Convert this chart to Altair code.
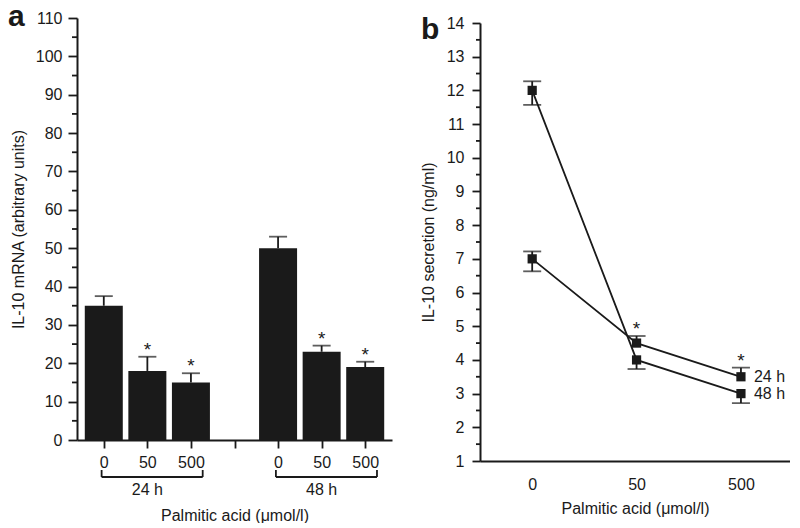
import altair as alt
import pandas as pd

# ---------------- data ----------------
conc_labels = ["0", "50", "500"]
groups = ["24 h", "48 h"]

# Panel a: IL-10 mRNA (arbitrary units), mean and upper end of SEM bar
mrna_24h = [35, 18, 15]
mrna_24h_upper = [37.5, 21.7, 17.4]
mrna_48h = [50, 23, 19]
mrna_48h_upper = [53.0, 24.6, 20.4]
mrna_signif = [False, True, True]

# Panel b: IL-10 secretion (ng/ml), mean and visible error bar ends
sec_24h = [7.0, 4.5, 3.5]
sec_24h_lower = [6.63, 4.5, 3.5]
sec_24h_upper = [7.22, 4.71, 3.77]
sec_48h = [12.0, 4.0, 3.0]
sec_48h_lower = [11.57, 3.73, 2.72]
sec_48h_upper = [12.27, 4.0, 3.0]
sec_signif = [False, True, True]

a_y_ticks = list(range(0, 111, 10))
a_y_minor = list(range(5, 110, 10))
b_y_ticks = list(range(1, 15))
b_y_minor = [v + 0.5 for v in range(1, 14)]

FONT = "Liberation Sans"
INK = "#1a1a1a"
LW = 1.8

# ---------------- panel a ----------------
rows = []
for gi, (vals, ups) in enumerate([(mrna_24h, mrna_24h_upper), (mrna_48h, mrna_48h_upper)]):
    for ci in range(3):
        rows.append(dict(pos=gi * 4 + ci, value=vals[ci], upper=ups[ci],
                         star="*" if mrna_signif[ci] else ""))
dfa = pd.DataFrame(rows)

brackets = pd.DataFrame({
    "group": groups,
    "start": [g * 4 - 0.05 for g in range(2)],
    "end": [g * 4 + 2.27 for g in range(2)],
    "mid": [g * 4 + 1 for g in range(2)],
})
ends = pd.DataFrame({"x": list(brackets["start"]) + list(brackets["end"])})

A_W, A_H = 315, 422
xa_scale = alt.Scale(domain=[-0.5, 6.5], nice=False, zero=False)
ya_scale = alt.Scale(domain=[0, 110], nice=False, zero=True)

xa_axis = alt.Axis(values=list(range(7)),
                   labelExpr="['0','50','500','','0','50','500'][datum.value]",
                   tickSize=8, labelPadding=6, grid=False, labelOverlap=False,
                   title="Palmitic acid (\u03bcmol/l)", titleX=A_W / 2, titleY=75,
                   titleBaseline="middle")
ya_axis = alt.Axis(values=a_y_ticks, tickSize=9, labelPadding=6, grid=False,
                   labelOverlap=False,
                   title="IL-10 mRNA (arbitrary units)", titleX=-59, titleY=A_H / 2,
                   titleAngle=270, titleBaseline="middle")


def XA(f):
    return alt.X(f, type="quantitative", scale=xa_scale, axis=xa_axis)


def YA(f):
    return alt.Y(f, type="quantitative", scale=ya_scale, axis=ya_axis)


base_a = alt.Chart(dfa)
bars = base_a.mark_bar(size=38, color=INK).encode(x=XA("pos"), y=YA("value"))
err_a = base_a.mark_rule(color=INK, strokeWidth=LW).encode(
    x=XA("pos"), y=YA("value"), y2="upper:Q")
cap_a = base_a.mark_tick(orient="horizontal", size=18, thickness=LW, color=INK).encode(
    x=XA("pos"), y=YA("upper"))
star_a = base_a.mark_text(fontSize=19, dy=-1, baseline="alphabetic", color=INK).encode(
    x=XA("pos"), y=YA("upper"), text="star:N")
minor_a = alt.Chart(pd.DataFrame({"v": a_y_minor})).mark_rule(color=INK, strokeWidth=LW).encode(
    y=YA("v"), x=alt.value(-5), x2=alt.value(0))
br_h = alt.Chart(brackets).mark_rule(color=INK, strokeWidth=LW).encode(
    x=XA("start"), x2="end:Q", y=alt.value(459))
br_v = alt.Chart(ends).mark_rule(color=INK, strokeWidth=LW).encode(
    x=XA("x"), y=alt.value(452), y2=alt.value(459))
br_t = alt.Chart(brackets).mark_text(fontSize=16, baseline="middle", color=INK).encode(
    x=XA("mid"), y=alt.value(472), text="group:N")
letter_a = alt.Chart(pd.DataFrame({"t": ["a"]})).mark_text(
    fontSize=30, fontWeight="bold", align="left", baseline="alphabetic", color=INK).encode(
    x=alt.value(-69), y=alt.value(8), text="t:N")

panel_a = alt.layer(bars, err_a, cap_a, star_a, minor_a, br_h, br_v, br_t, letter_a).properties(
    width=A_W, height=A_H)

# ---------------- panel b ----------------
rows = []
for name, vals, lo, hi in [("24 h", sec_24h, sec_24h_lower, sec_24h_upper),
                           ("48 h", sec_48h, sec_48h_lower, sec_48h_upper)]:
    for ci in range(3):
        rows.append(dict(series=name, pos=ci, value=vals[ci], lower=lo[ci], upper=hi[ci],
                         star="*" if (name == "24 h" and sec_signif[ci]) else "",
                         label=name if ci == 2 else ""))
dfb = pd.DataFrame(rows)
caps = []
for r in rows:
    if r["lower"] < r["value"]:
        caps.append(dict(pos=r["pos"], y=r["lower"]))
    if r["upper"] > r["value"]:
        caps.append(dict(pos=r["pos"], y=r["upper"]))
dfcaps = pd.DataFrame(caps)

B_W, B_H = 310, 443
xb_scale = alt.Scale(domain=[-0.5, 2.47], nice=False, zero=False)
yb_scale = alt.Scale(domain=[1, 14], range=[B_H, 5], nice=False, zero=False)
xb_axis = alt.Axis(values=[0, 1, 2], labelExpr="['0','50','500'][datum.value]",
                   ticks=False, tickSize=0, labelPadding=15, grid=False, labelOverlap=False,
                   title="Palmitic acid (\u03bcmol/l)", titleX=B_W / 2, titleY=47,
                   titleBaseline="middle")
yb_axis = alt.Axis(values=b_y_ticks, tickSize=8, labelPadding=8, grid=False,
                   labelOverlap=False,
                   title="IL-10 secretion (ng/ml)", titleX=-52, titleY=(B_H + 5) / 2,
                   titleAngle=270, titleBaseline="middle")


def XB(f):
    return alt.X(f, type="quantitative", scale=xb_scale, axis=xb_axis)


def YB(f):
    return alt.Y(f, type="quantitative", scale=yb_scale, axis=yb_axis)


base_b = alt.Chart(dfb)
lines = base_b.mark_line(color=INK, strokeWidth=LW).encode(
    x=XB("pos"), y=YB("value"), detail="series:N")
err_b = base_b.mark_rule(color=INK, strokeWidth=LW).encode(
    x=XB("pos"), y=YB("lower"), y2="upper:Q")
cap_b = alt.Chart(dfcaps).mark_tick(orient="horizontal", size=18, thickness=LW, color=INK).encode(
    x=XB("pos"), y=YB("y"))
pts = base_b.mark_square(size=85, color=INK, opacity=1).encode(x=XB("pos"), y=YB("value"))
star_b = base_b.mark_text(fontSize=19, dy=-1, baseline="alphabetic", color=INK).encode(
    x=XB("pos"), y=YB("upper"), text="star:N")
lab_b = base_b.mark_text(fontSize=16, dx=13, align="left", baseline="middle", color=INK).encode(
    x=XB("pos"), y=YB("value"), text="label:N")
minor_b = alt.Chart(pd.DataFrame({"v": b_y_minor})).mark_rule(color=INK, strokeWidth=LW).encode(
    y=YB("v"), x=alt.value(-4), x2=alt.value(0))
letter_b = alt.Chart(pd.DataFrame({"t": ["b"]})).mark_text(
    fontSize=30, fontWeight="bold", align="left", baseline="alphabetic", color=INK).encode(
    x=alt.value(-59), y=alt.value(21), text="t:N")

panel_b = alt.layer(lines, err_b, cap_b, pts, star_b, lab_b, minor_b, letter_b).properties(
    width=B_W, height=B_H)

chart = alt.hconcat(panel_a, panel_b, spacing=28).properties(
    padding={"left": 0, "top": -6, "right": 0, "bottom": 0}
).configure_view(stroke=None).configure_axis(
    labelFont=FONT, titleFont=FONT, labelFontSize=16, titleFontSize=16,
    titleFontWeight="normal", labelColor=INK, titleColor=INK,
    domainColor=INK, tickColor=INK, domainWidth=2, tickWidth=LW,
).configure_text(font=FONT)

chart.save("out.html", embed_options={"renderer": "svg", "actions": False})
